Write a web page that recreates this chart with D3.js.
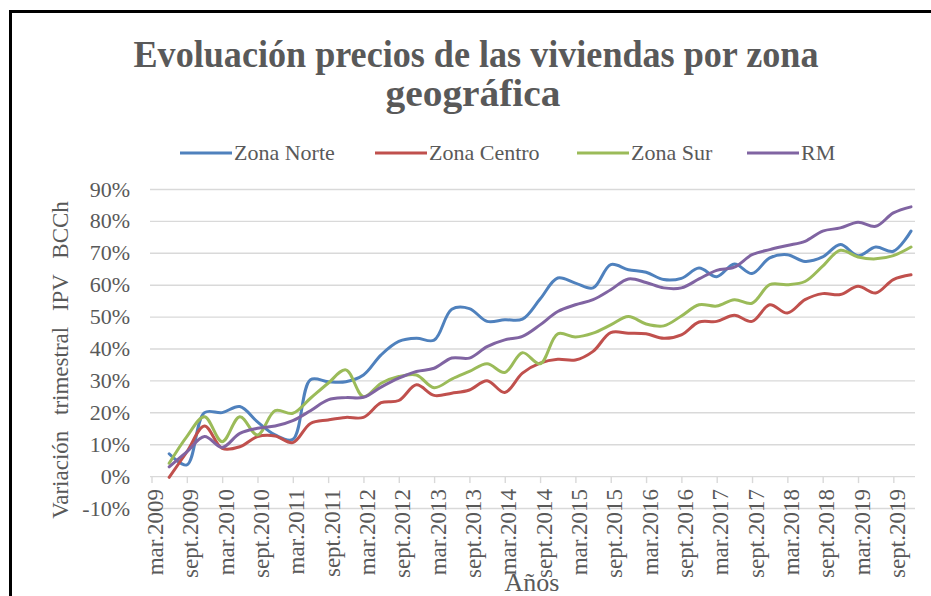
<!DOCTYPE html>
<html>
<head>
<meta charset="utf-8">
<script src="https://cdn.jsdelivr.net/npm/d3@7"></script>
<style>
  body { margin: 0; background: #fff; }
  svg text { font-family: "Liberation Serif", "Times New Roman", serif; fill: #595959; }
</style>
</head>
<body>
<svg id="chart" width="931" height="596"></svg>
<script>
const quarters = [
  'mar.2009', 'jun.2009', 'sept.2009', 'dic.2009',
  'mar.2010', 'jun.2010', 'sept.2010', 'dic.2010',
  'mar.2011', 'jun.2011', 'sept.2011', 'dic.2011',
  'mar.2012', 'jun.2012', 'sept.2012', 'dic.2012',
  'mar.2013', 'jun.2013', 'sept.2013', 'dic.2013',
  'mar.2014', 'jun.2014', 'sept.2014', 'dic.2014',
  'mar.2015', 'jun.2015', 'sept.2015', 'dic.2015',
  'mar.2016', 'jun.2016', 'sept.2016', 'dic.2016',
  'mar.2017', 'jun.2017', 'sept.2017', 'dic.2017',
  'mar.2018', 'jun.2018', 'sept.2018', 'dic.2018',
  'mar.2019', 'jun.2019', 'sept.2019', 'dic.2019'
];
const xTickLabels = quarters.filter(q => q.startsWith('mar') || q.startsWith('sept'));

// % variation, first quarter has no value
const zonaNorte = [null, 7.0, 3.5, 19.9, 19.9, 21.8, 17.0, 12.9, 11.5, 30.2, 29.6, 29.6, 31.7, 38.0, 42.2, 43.2,
  42.6, 52.3, 52.5, 48.5, 49.0, 49.2, 55.5, 62.1, 60.5, 59.0, 66.3, 64.7, 63.9, 61.6, 62.0, 65.2,
  62.5, 66.5, 63.5, 68.4, 69.4, 67.3, 68.7, 72.6, 69.1, 71.8, 70.5, 76.8];
const zonaCentro = [null, -0.4, 7.6, 15.7, 8.7, 9.2, 12.4, 12.6, 10.5, 16.5, 17.6, 18.4, 18.4, 23.0, 23.7, 28.6,
  25.3, 26.0, 27.0, 29.9, 26.2, 32.3, 35.4, 36.6, 36.4, 39.1, 45.0, 44.8, 44.6, 43.2, 44.3, 48.3,
  48.5, 50.4, 48.5, 53.7, 51.1, 55.3, 57.2, 56.9, 59.5, 57.4, 61.6, 63.1];
const zonaSur = [null, 4.0, 12.4, 18.6, 10.8, 18.6, 12.9, 20.5, 19.7, 24.4, 29.1, 33.3, 24.9, 29.1, 31.2, 31.7,
  27.7, 30.4, 32.8, 35.2, 32.5, 38.7, 35.2, 44.6, 43.6, 44.8, 47.4, 50.0, 47.7, 47.1, 50.2, 53.7,
  53.3, 55.3, 54.2, 60.0, 60.0, 61.0, 65.8, 70.8, 68.7, 68.1, 69.1, 71.8];
const rm = [null, 2.9, 7.6, 12.4, 9.0, 13.4, 15.0, 15.7, 17.4, 20.5, 23.9, 24.6, 24.7, 27.9, 30.7, 32.8,
  33.8, 37.0, 37.0, 40.6, 42.7, 43.8, 47.4, 51.6, 53.7, 55.3, 58.4, 61.8, 60.7, 59.0, 59.0, 61.8,
  64.5, 65.5, 69.4, 71.0, 72.3, 73.6, 76.8, 77.8, 79.6, 78.3, 82.5, 84.4];

const seriesNames = ['Zona Norte', 'Zona Centro', 'Zona Sur', 'RM'];
const seriesValues = [zonaNorte, zonaCentro, zonaSur, rm];
const yTicks = [-10, 0, 10, 20, 30, 40, 50, 60, 70, 80, 90];

const colors = ['#4f81bd', '#c0504d', '#9bbb59', '#8064a2'];
const svg = d3.select('#chart');

const plotLeft = 150, plotRight = 915;
const x = d3.scalePoint().domain(quarters).range([151.5, 911]);
const y = d3.scaleLinear().domain([-10, 90]).range([508, 189]);

// outer frame
svg.append('rect')
  .attr('x', 10.5).attr('y', 11.5)
  .attr('width', 940).attr('height', 620)
  .attr('fill', 'none').attr('stroke', '#000').attr('stroke-width', 3);

// title
svg.append('text')
  .attr('x', 476).attr('y', 67)
  .attr('text-anchor', 'middle')
  .attr('font-size', 37).attr('font-weight', 'bold')
  .attr('textLength', 685).attr('lengthAdjust', 'spacingAndGlyphs')
  .text('Evoluación precios de las viviendas por zona');
svg.append('text')
  .attr('x', 473).attr('y', 106)
  .attr('text-anchor', 'middle')
  .attr('font-size', 37).attr('font-weight', 'bold')
  .attr('textLength', 175).attr('lengthAdjust', 'spacingAndGlyphs')
  .text('geográfica');

// y axis + gridlines
const yAxis = svg.append('g')
  .attr('transform', `translate(${plotLeft},0)`)
  .call(d3.axisLeft(y).tickValues(yTicks).tickSize(-(plotRight - plotLeft)).tickPadding(20).tickFormat(d => d + '%'));
yAxis.attr('font-family', null).attr('font-size', null);
yAxis.select('.domain').remove();
yAxis.selectAll('line').attr('stroke', '#d9d9d9').attr('stroke-width', 1.4);
yAxis.selectAll('text').attr('font-size', 22).attr('fill', '#595959');

// x axis sits on 0%
const xAxis = svg.append('g')
  .attr('transform', `translate(0,${y(0)})`)
  .call(d3.axisBottom(x).tickValues(xTickLabels).tickSize(7));
xAxis.attr('font-family', null).attr('font-size', null);
xAxis.select('.domain').remove();
xAxis.selectAll('line').attr('stroke', '#d9d9d9').attr('stroke-width', 1.4);
xAxis.selectAll('text')
  .attr('font-size', 23)
  .attr('fill', '#595959')
  .attr('transform', 'rotate(-90)')
  .attr('text-anchor', 'end')
  .attr('x', -13).attr('y', 3)
  .attr('dy', '0.35em');

// lines
const line = d3.line()
  .defined(d => d != null)
  .x((d, i) => x(quarters[i]))
  .y(d => y(d))
  .curve(d3.curveCatmullRom);

svg.append('g').selectAll('path')
  .data(seriesValues)
  .enter()
  .append('path')
  .attr('d', d => line(d))
  .attr('fill', 'none')
  .attr('stroke', (d, i) => colors[i])
  .attr('stroke-width', 3)
  .attr('stroke-linecap', 'round');

// legend
const legendX = [180, 375, 577, 747];
const legend = svg.append('g').selectAll('g')
  .data(seriesNames)
  .enter()
  .append('g')
  .attr('transform', (d, i) => `translate(${legendX[i]},153)`);
legend.append('line')
  .attr('x1', 0).attr('x2', 52)
  .attr('stroke', (d, i) => colors[i])
  .attr('stroke-width', 3);
legend.append('text')
  .attr('x', 54).attr('y', 7)
  .attr('font-size', 22)
  .text(d => d);

// axis titles
svg.append('text')
  .attr('transform', 'translate(68,360) rotate(-90)')
  .attr('text-anchor', 'middle')
  .attr('font-size', 23)
  .attr('word-spacing', 10)
  .text('Variación trimestral IPV BCCh');

svg.append('text')
  .attr('x', 532).attr('y', 591)
  .attr('text-anchor', 'middle')
  .attr('font-size', 26)
  .text('Años');
</script>
</body>
</html>
